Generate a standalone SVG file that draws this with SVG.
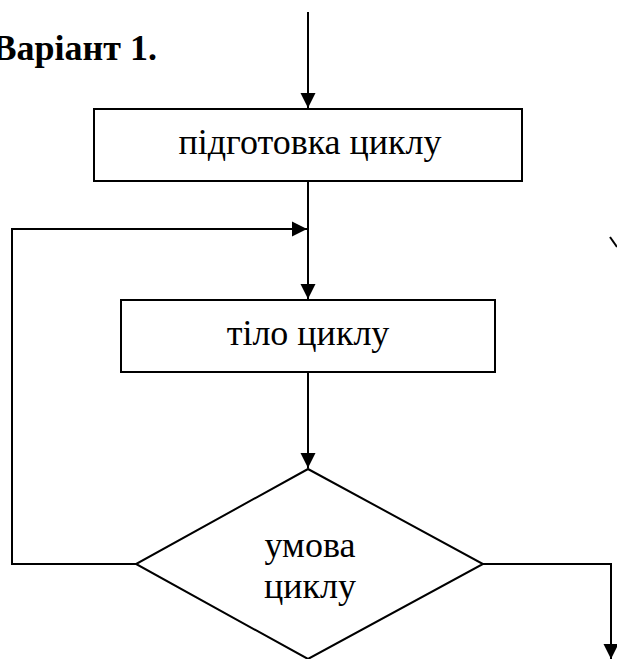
<svg xmlns="http://www.w3.org/2000/svg" width="617" height="659" viewBox="0 0 617 659">
<style>
.ln{fill:none;stroke:#000;stroke-width:2}
.nd{fill:#fff;stroke:#000;stroke-width:2}
.tx{font-family:"Liberation Serif","Times New Roman",serif;font-size:36px;fill:#000;text-anchor:middle}
.ti{font-family:"Liberation Serif","Times New Roman",serif;font-size:36px;font-weight:bold;fill:#000;text-anchor:end}
</style>
<defs>
<marker id="ah" markerUnits="userSpaceOnUse" markerWidth="16" markerHeight="16" viewBox="0 0 16 16" refX="15" refY="8" orient="auto">
<path d="M0,0.5 L15,8 L0,15.5 Z" fill="#000"/>
</marker>
</defs>
<rect width="617" height="659" fill="#fff"/>
<text class="ti" x="157" y="60">Варіант 1.</text>
<g id="connectors">
<path class="ln" d="M308,12 V108" marker-end="url(#ah)"/>
<path class="ln" d="M308,181 V299" marker-end="url(#ah)"/>
<path class="ln" d="M136,564 H12 V229 H307" marker-end="url(#ah)"/>
<path class="ln" d="M308,372 V468" marker-end="url(#ah)"/>
<path class="ln" d="M483,564 H611 V659" marker-end="url(#ah)"/>
<path class="ln" d="M610,237 L617,247"/>
</g>
<g id="prep">
<rect class="nd" x="94" y="109" width="428" height="72"/>
<text class="tx" x="310" y="154">підготовка циклу</text>
</g>
<g id="body">
<rect class="nd" x="121" y="300" width="374" height="72"/>
<text class="tx" x="308" y="345">тіло циклу</text>
</g>
<g id="cond">
<polygon class="nd" points="308,469 483,564 308,659 136,564"/>
<text class="tx" x="310" y="557">умова</text>
<text class="tx" x="310" y="598">циклу</text>
</g>
</svg>
